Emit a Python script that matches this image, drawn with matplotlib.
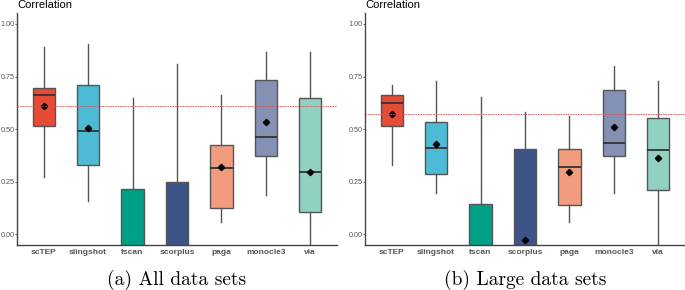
import numpy as np
import matplotlib
matplotlib.use("Agg")
import matplotlib.pyplot as plt

methods = ["scTEP", "slingshot", "tscan", "scorplus", "paga", "monocle3", "via"]
colors = ["#E64B35", "#4DBBD5", "#00A087", "#3C5488", "#F39B7F", "#8491B4", "#91D1C2"]

# (a) all data sets
a_whislo = [0.27, 0.16, -0.60, -0.60, 0.057, 0.187, -0.60]
a_q1     = [0.516, 0.33, -0.30, -0.30, 0.124, 0.374, 0.105]
a_med    = [0.662, 0.49, -0.15, -0.15, 0.314, 0.463, 0.295]
a_q3     = [0.695, 0.71, 0.214, 0.249, 0.425, 0.733, 0.646]
a_whishi = [0.89, 0.906, 0.65, 0.81, 0.66, 0.865, 0.865]
a_mean   = [0.61, 0.503, -0.12, -0.10, 0.32, 0.536, 0.297]
a_ref = 0.608

# (b) large data sets
b_whislo = [0.33, 0.198, -0.60, -0.60, 0.057, 0.198, -0.60]
b_q1     = [0.516, 0.286, -0.30, -0.30, 0.14, 0.374, 0.212]
b_med    = [0.622, 0.41, -0.15, -0.15, 0.319, 0.433, 0.40]
b_q3     = [0.662, 0.535, 0.144, 0.406, 0.406, 0.687, 0.552]
b_whishi = [0.71, 0.731, 0.652, 0.582, 0.563, 0.80, 0.731]
b_mean   = [0.574, 0.43, -0.12, -0.026, 0.295, 0.51, 0.362]
b_ref = 0.573

yticks = [0.00, 0.25, 0.50, 0.75, 1.00]


def panel(ax, lo, q1, med, q3, hi, mean, ref, caption):
    stats = []
    for i in range(len(methods)):
        stats.append(dict(whislo=lo[i], q1=q1[i], med=med[i], q3=q3[i],
                          whishi=hi[i], mean=mean[i], fliers=[], label=methods[i]))
    x = np.arange(len(methods))
    bp = ax.bxp(stats, positions=x, widths=0.5, patch_artist=True, showmeans=True,
                showcaps=False,
                boxprops=dict(edgecolor="#555555", linewidth=1.0),
                whiskerprops=dict(color="#555555", linewidth=1.0),
                medianprops=dict(color="#333333", linewidth=1.3),
                meanprops=dict(marker="D", markerfacecolor="black",
                               markeredgecolor="black", markersize=3.2))
    for patch, c in zip(bp["boxes"], colors):
        patch.set_facecolor(c)
    ax.axhline(ref, color="#d9534f", linestyle=(0, (2, 1)), linewidth=0.6, zorder=5)
    ax.set_xlim(-0.6, 6.6)
    ax.set_ylim(-0.051, 1.052)
    ax.set_yticks(yticks)
    ax.set_yticklabels(["%.2f" % v for v in yticks])
    ax.tick_params(axis="y", labelsize=5.2, colors="#555555", length=1.2, width=0.6, pad=0.3)
    ax.tick_params(axis="x", length=0, pad=3)
    for lab in ax.get_xticklabels():
        lab.set_fontsize(6)
        lab.set_fontweight("bold")
        lab.set_color("#555555")
    for s in ["top", "right"]:
        ax.spines[s].set_visible(False)
    for s in ["left", "bottom"]:
        ax.spines[s].set_color("#444444")
        ax.spines[s].set_linewidth(1.0)
    ax.text(0.0, 1.035, "Correlation", transform=ax.transAxes, fontsize=8,
            ha="left", va="center", color="black")
    ax.text(0.5, -0.152, caption, transform=ax.transAxes, fontsize=14,
            family="cmr10", ha="center", va="center")


plt.rcParams["font.family"] = ["Liberation Sans", "DejaVu Sans"]
fig = plt.figure(figsize=(6.85, 2.90), dpi=100)
ax1 = fig.add_axes([17 / 685, 1 - 245 / 290, (337 - 17) / 685, (245 - 13) / 290])
ax2 = fig.add_axes([365 / 685, 1 - 245 / 290, (685 - 365) / 685, (245 - 13) / 290])
panel(ax1, a_whislo, a_q1, a_med, a_q3, a_whishi, a_mean, a_ref, "(a) All data sets")
panel(ax2, b_whislo, b_q1, b_med, b_q3, b_whishi, b_mean, b_ref, "(b) Large data sets")
fig.savefig("out.png", dpi=100)
